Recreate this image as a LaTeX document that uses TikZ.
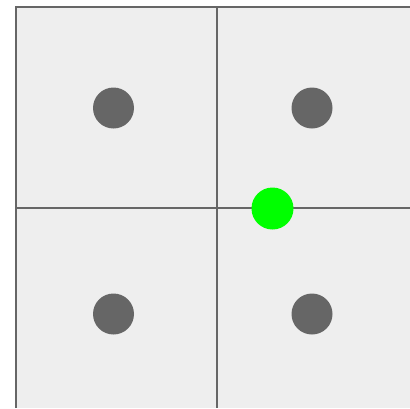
\documentclass[tikz,border=0pt]{standalone}
\usepackage{tikz}
\definecolor{cellgray}{HTML}{EEEEEE}
\definecolor{linegray}{HTML}{666666}
\definecolor{agent}{HTML}{00FF00}

\begin{document}
\begin{tikzpicture}[x=1pt, y=-1pt,
  dot/.style={circle, fill=linegray, minimum size=41pt, inner sep=0pt},
  marker/.style={circle, fill=agent, minimum size=42pt, inner sep=0pt}]
  \useasboundingbox (0,0) rectangle (410,408);
  % Grid
  \fill[cellgray] (16,7) rectangle (410,408);
  \draw[linegray, line width=2pt] (16,408) -- (16,7) -- (410,7);
  \draw[linegray, line width=2pt] (217,7) -- (217,408);
  \draw[linegray, line width=2pt] (16,208) -- (410,208);
  % Cell centres
  \node[dot] (c11) at (113.5,108) {};
  \node[dot] (c12) at (312,108) {};
  \node[dot] (c21) at (113.5,314) {};
  \node[dot] (c22) at (312,314) {};
  % Current position
  \node[marker] (pos) at (272.5,208.5) {};
\end{tikzpicture}
\end{document}
